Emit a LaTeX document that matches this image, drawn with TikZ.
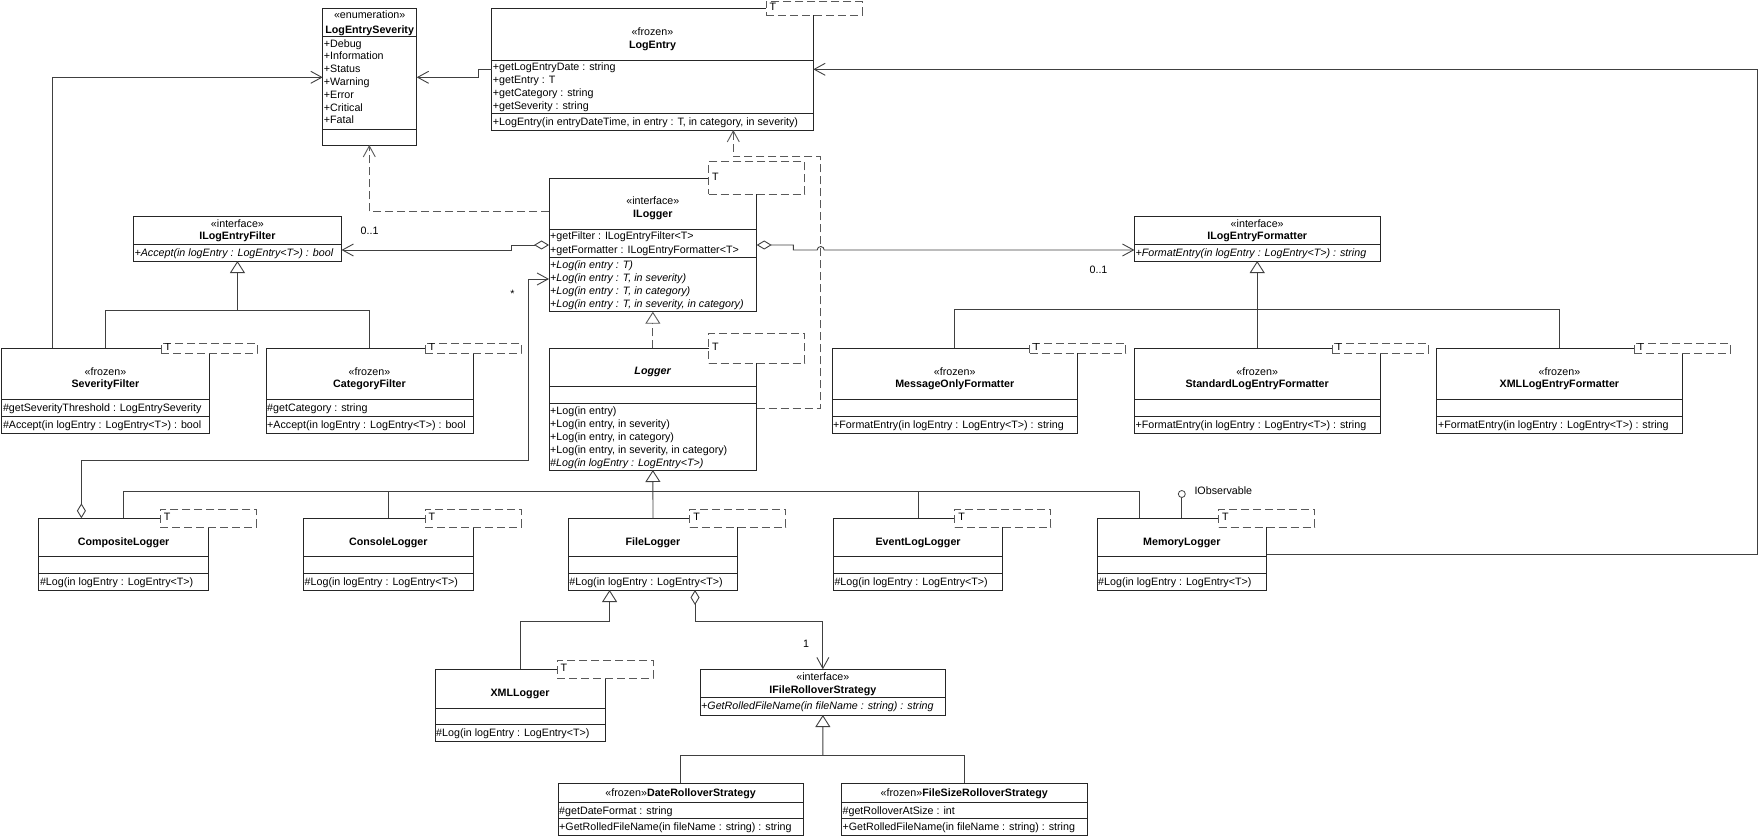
\documentclass[tikz,border=0pt]{standalone}
\usepackage{fontspec}
\setmainfont{Liberation Sans}
\usetikzlibrary{arrows.meta,fit}
\newcounter{umltn}
\newcommand\umlcls[5]{\node[clsbox, fit={(#2,#3) (#4,#5)}] (#1) {};}
\newcommand\usep[2]{\stepcounter{umltn}\draw[boxline] (#1.west |- 0,#2) coordinate (s\arabic{umltn}a) -- (#1.east |- 0,#2) coordinate (s\arabic{umltn}b);}
\newcommand\uctr[3]{\stepcounter{umltn}\node[txt, anchor=base, yshift=-3.8pt] (t\arabic{umltn}) at (#1.center |- 0,#2) {#3};}
\newcommand\ulft[3]{\stepcounter{umltn}\node[txt, anchor=base west, xshift=1.2pt, yshift=-3.8pt] (t\arabic{umltn}) at (#1.west |- 0,#2) {#3};}
\newcommand\utmpl[6]{\node[tmplbox, fit={(#2,#3) (#4,#5)}] (#1) {};
  \begin{scope}\clip (#2,#3) rectangle (#4,#5);
  \node[txt, anchor=west, xshift=3.5pt] (#1-T) at (#1.west |- 0,#6) {T};
  \end{scope}}
\begin{document}
\begin{tikzpicture}[x=1pt,y=-1pt,line width=0.9pt,
  clsbox/.style={draw=black!85, fill=white, inner sep=0pt, outer sep=0pt},
  boxline/.style={draw=black!85},
  tmplbox/.style={draw=black!65, fill=white, dash pattern=on 8pt off 4pt, inner sep=0pt, outer sep=0pt},
  txt/.style={font=\fontsize{10.7}{13.2}\selectfont, inner sep=0pt, outer sep=0pt},
  conn/.style={draw=black!75},
  dep/.style={draw=black!65, dash pattern=on 8pt off 4pt},
  openarr/.style={-{Straight Barb[length=11pt,width=12pt]}},
  gentip/.style={-{Triangle[open,length=12pt,width=15pt]}},
  aggopen/.style={arrows={{Diamond[open,length=15pt,width=9pt]}-{Straight Barb[length=11pt,width=12pt]}}},
  ]
\useasboundingbox (0,0) rectangle (1759,837);

% ---------------- LogEntrySeverity
\umlcls{les}{322.7}{8.3}{416.7}{145}
\uctr{les}{15}{«enumeration»}
\uctr{les}{29.3}{\textbf{LogEntrySeverity}}
\usep{les}{36.7}
\ulft{les}{43.3}{+Debug}
\ulft{les}{56.1}{+Information}
\ulft{les}{68.9}{+Status}
\ulft{les}{81.7}{+Warning}
\ulft{les}{94.5}{+Error}
\ulft{les}{107.3}{+Critical}
\ulft{les}{120.1}{+Fatal}
\usep{les}{129.3}

% ---------------- LogEntry
\umlcls{le}{491.7}{8.3}{813.3}{130}
\uctr{le}{31.7}{«frozen»}
\uctr{le}{44.3}{\textbf{LogEntry}}
\usep{le}{60}
\ulft{le}{66.6}{+getLogEntryDate : string}
\ulft{le}{79.8}{+getEntry : T}
\ulft{le}{93}{+getCategory : string}
\ulft{le}{106.2}{+getSeverity : string}
\usep{le}{113.3}
\ulft{le}{121.5}{+LogEntry(in entryDateTime, in entry : T, in category, in severity)}
\utmpl{let}{766}{1.7}{862}{15}{7.3}

% ---------------- ILogger
\umlcls{il}{549}{178.3}{756.7}{311.7}
\uctr{il}{201}{«interface»}
\uctr{il}{214}{\textbf{ILogger}}
\usep{il}{229.3}
\ulft{il}{236}{+getFilter : ILogEntryFilter<T>}
\ulft{il}{249.3}{+getFormatter : ILogEntryFormatter<T>}
\usep{il}{257.3}
\ulft{il}{264.2}{\itshape +Log(in entry : T)}
\ulft{il}{277.4}{\itshape +Log(in entry : T, in severity)}
\ulft{il}{290.6}{\itshape +Log(in entry : T, in category)}
\ulft{il}{303.8}{\itshape +Log(in entry : T, in severity, in category)}
\utmpl{ilt}{708.7}{161.7}{804.7}{194.3}{177.3}

% ---------------- Logger
\umlcls{lg}{549}{348.3}{756.7}{470}
\uctr{lg}{371}{\textbf{\textit{Logger}}}
\usep{lg}{386.7}
\usep{lg}{403.3}
\ulft{lg}{410.3}{+Log(in entry)}
\ulft{lg}{423.5}{+Log(in entry, in severity)}
\ulft{lg}{436.7}{+Log(in entry, in category)}
\ulft{lg}{449.9}{+Log(in entry, in severity, in category)}
\ulft{lg}{463.1}{\itshape \#Log(in logEntry : LogEntry<T>)}
\utmpl{lgt}{708.7}{333.3}{804.7}{363.3}{347.3}

% ---------------- ILogEntryFilter
\umlcls{ilf}{133.4}{216.7}{341.5}{261}
\uctr{ilf}{223.3}{«interface»}
\uctr{ilf}{236}{\textbf{ILogEntryFilter}}
\usep{ilf}{244}
\ulft{ilf}{252.5}{\itshape +Accept(in logEntry : LogEntry<T>) : bool}

% ---------------- SeverityFilter
\umlcls{sf}{1.8}{348.3}{209}{433.3}
\uctr{sf}{371.7}{«frozen»}
\uctr{sf}{384}{\textbf{SeverityFilter}}
\usep{sf}{399.3}
\ulft{sf}{408}{\#getSeverityThreshold : LogEntrySeverity}
\usep{sf}{416.7}
\ulft{sf}{425}{\#Accept(in logEntry : LogEntry<T>) : bool}
\utmpl{sft}{161}{343.3}{257}{353.3}{347.3}

% ---------------- CategoryFilter
\umlcls{cf}{266}{348.3}{473}{433.3}
\uctr{cf}{371.7}{«frozen»}
\uctr{cf}{384}{\textbf{CategoryFilter}}
\usep{cf}{399.3}
\ulft{cf}{408}{\#getCategory : string}
\usep{cf}{416.7}
\ulft{cf}{425}{+Accept(in logEntry : LogEntry<T>) : bool}
\utmpl{cft}{425}{343.3}{521}{353.3}{347.3}

% ---------------- ILogEntryFormatter
\umlcls{ilfm}{1134.4}{216.7}{1380}{261}
\uctr{ilfm}{223.3}{«interface»}
\uctr{ilfm}{236}{\textbf{ILogEntryFormatter}}
\usep{ilfm}{244}
\ulft{ilfm}{252.5}{\itshape +FormatEntry(in logEntry : LogEntry<T>) : string}

% ---------------- Formatters
\umlcls{mof}{832}{348.3}{1077.5}{433.3}
\uctr{mof}{371.7}{«frozen»}
\uctr{mof}{384}{\textbf{MessageOnlyFormatter}}
\usep{mof}{399.3}
\usep{mof}{416.7}
\ulft{mof}{425}{+FormatEntry(in logEntry : LogEntry<T>) : string}
\utmpl{moft}{1029.5}{343.3}{1125.5}{353.3}{347.3}

\umlcls{slf}{1134.4}{348.3}{1380}{433.3}
\uctr{slf}{371.7}{«frozen»}
\uctr{slf}{384}{\textbf{StandardLogEntryFormatter}}
\usep{slf}{399.3}
\usep{slf}{416.7}
\ulft{slf}{425}{+FormatEntry(in logEntry : LogEntry<T>) : string}
\utmpl{slft}{1332}{343.3}{1428}{353.3}{347.3}

\umlcls{xlf}{1436.8}{348.3}{1682}{433.3}
\uctr{xlf}{371.7}{«frozen»}
\uctr{xlf}{384}{\textbf{XMLLogEntryFormatter}}
\usep{xlf}{399.3}
\usep{xlf}{416.7}
\ulft{xlf}{425}{+FormatEntry(in logEntry : LogEntry<T>) : string}
\utmpl{xlft}{1634}{343.3}{1730}{353.3}{347.3}

% ---------------- Loggers
\umlcls{cl}{38.8}{518.3}{208.4}{590}
\uctr{cl}{541.7}{\textbf{CompositeLogger}}
\usep{cl}{556}
\usep{cl}{573.3}
\ulft{cl}{581.7}{\#Log(in logEntry : LogEntry<T>)}
\utmpl{clt}{160.4}{509.3}{256.4}{527.3}{517.3}

\umlcls{col}{303.5}{518.3}{473.1}{590}
\uctr{col}{541.7}{\textbf{ConsoleLogger}}
\usep{col}{556}
\usep{col}{573.3}
\ulft{col}{581.7}{\#Log(in logEntry : LogEntry<T>)}
\utmpl{colt}{425.1}{509.3}{521.1}{527.3}{517.3}

\umlcls{fl}{568.2}{518.3}{737.8}{590}
\uctr{fl}{541.7}{\textbf{FileLogger}}
\usep{fl}{556}
\usep{fl}{573.3}
\ulft{fl}{581.7}{\#Log(in logEntry : LogEntry<T>)}
\utmpl{flt}{689.8}{509.3}{785.8}{527.3}{517.3}

\umlcls{ell}{833.3}{518.3}{1002.9}{590}
\uctr{ell}{541.7}{\textbf{EventLogLogger}}
\usep{ell}{556}
\usep{ell}{573.3}
\ulft{ell}{581.7}{\#Log(in logEntry : LogEntry<T>)}
\utmpl{ellt}{954.9}{509.3}{1050.9}{527.3}{517.3}

\umlcls{ml}{1097}{518.3}{1266.6}{590}
\uctr{ml}{541.7}{\textbf{MemoryLogger}}
\usep{ml}{556}
\usep{ml}{573.3}
\ulft{ml}{581.7}{\#Log(in logEntry : LogEntry<T>)}
\utmpl{mlt}{1218.6}{509.3}{1314.6}{527.3}{517.3}

% ---------------- XMLLogger
\umlcls{xl}{435}{669.3}{605}{741.7}
\uctr{xl}{692.3}{\textbf{XMLLogger}}
\usep{xl}{708.3}
\usep{xl}{724.3}
\ulft{xl}{733}{\#Log(in logEntry : LogEntry<T>)}
\utmpl{xlt}{557}{660.3}{653}{678.3}{668.3}

% ---------------- IFileRolloverStrategy
\umlcls{ifrs}{700}{669.3}{945.7}{715}
\uctr{ifrs}{676.5}{«interface»}
\uctr{ifrs}{689.2}{\textbf{IFileRolloverStrategy}}
\usep{ifrs}{697.5}
\ulft{ifrs}{706}{\itshape +GetRolledFileName(in fileName : string) : string}

% ---------------- Rollover strategies
\umlcls{drs}{558}{783.3}{803.3}{835.8}
\uctr{drs}{792.5}{«frozen»\textbf{DateRolloverStrategy}}
\usep{drs}{802.7}
\ulft{drs}{810.5}{\#getDateFormat : string}
\usep{drs}{818.3}
\ulft{drs}{827}{+GetRolledFileName(in fileName : string) : string}

\umlcls{fsrs}{841.4}{783.3}{1087}{835.8}
\uctr{fsrs}{792.5}{«frozen»\textbf{FileSizeRolloverStrategy}}
\usep{fsrs}{802.7}
\ulft{fsrs}{810.5}{\#getRolloverAtSize : int}
\usep{fsrs}{818.3}
\ulft{fsrs}{827}{+GetRolledFileName(in fileName : string) : string}

% ---------------- connectors
% SeverityFilter -> LogEntrySeverity
\draw[conn, openarr] (sf.north -| 52.9,0) -- (52.9,77.3) -- (les.west |- 0,77.3);
% LogEntry -> LogEntrySeverity
\draw[conn, openarr] (le.west |- 0,69.3) -- (478.3,69.3) -- (478.3,77.3) -- (les.east |- 0,77.3);
% ILogger -> LogEntrySeverity (dependency)
\draw[dep, openarr] (il.west |- 0,211.7) -- (369.3,211.7) -- (les.south -| 369.3,0);
% Logger -> LogEntry (dependency)
\draw[dep, openarr] (lg.east |- 0,408.3) -- (820.7,408.3) -- (820.7,156.7) -- (733.3,156.7) -- (le.south -| 733.3,0);
% MemoryLogger -> LogEntry
\draw[conn, openarr] (ml.east |- 0,554) -- (1757.4,554) -- (1757.4,69.3) -- (le.east |- 0,69.3);
% ILogger <>-> ILogEntryFilter
\draw[conn, aggopen] (il.west |- 0,245) -- (511,245) -- (511,250) -- (ilf.east |- 0,250);
\node[txt] (m01a) at (369.6,231) {0..1};
% ILogger <>-> ILogEntryFormatter (with hop)
\draw[conn, aggopen] (il.east |- 0,245) -- (793.3,245) -- (793.3,250) -- (817.2,250)
   arc[start angle=180,end angle=0,radius=3.5pt] -- (ilfm.west |- 0,250);
\node[txt] (m01b) at (1098.5,270) {0..1};
% Logger realizes ILogger
\draw[dep, gentip] (lg.north) -- (il.south);
% CompositeLogger <>-> ILogger
\draw[conn, aggopen] (cl.north -| 81.4,0) -- (81.4,460.7) -- (528.3,460.7) -- (528.3,279) -- (il.west |- 0,279);
\node[txt] (mstar) at (512.5,294) {*};
% Filters -> ILogEntryFilter
\coordinate (ilfbus) at (237.45,310);
\draw[conn] (sf.north) |- (ilfbus);
\draw[conn] (cf.north) |- (ilfbus);
\draw[conn, gentip] (ilfbus) -- (ilf.south);
% Formatters -> ILogEntryFormatter
\coordinate (fmbus) at (1257.2,309);
\draw[conn] (mof.north) |- (fmbus);
\draw[conn] (xlf.north) |- (fmbus);
\draw[conn, gentip] (slf.north) -- (ilfm.south);
% Loggers -> Logger
\coordinate (lgbus) at (652.85,491.7);
\draw[conn] (cl.north) |- (lgbus);
\draw[conn] (col.north) |- (lgbus);
\draw[conn] (ell.north) |- (lgbus);
\draw[conn] ([xshift=-42.3pt]ml.north) |- (lgbus);
\draw[conn, gentip] (fl.north) -- (lg.south);
% IObservable lollipop
\node[circle, draw=black!75, fill=white, line width=0.8pt, minimum size=7pt, inner sep=0pt] (iobs) at (1181.8,494) {};
\draw[conn] (iobs.south) -- (iobs.south |- ml.north);
\node[txt, anchor=west] (iobsl) at (1194.5,490.5) {IObservable};
% XMLLogger -> FileLogger
\coordinate (xlbend) at (609.6,621.7);
\draw[conn, gentip] (xl.north) |- (xlbend) -- (xlbend |- fl.south);
% FileLogger <>-> IFileRolloverStrategy
\coordinate (flagg) at (695,621.7);
\draw[conn, aggopen] (flagg |- fl.south) -- (flagg) -| (ifrs.north);
\node[txt] (m1) at (806,644.3) {1};
% Rollover strategies -> IFileRolloverStrategy
\coordinate (rsbus) at (822.85,755);
\draw[conn] (drs.north) |- (rsbus);
\draw[conn] (fsrs.north) |- (rsbus);
\draw[conn, gentip] (rsbus) -- (ifrs.south);
\end{tikzpicture}
\end{document}
